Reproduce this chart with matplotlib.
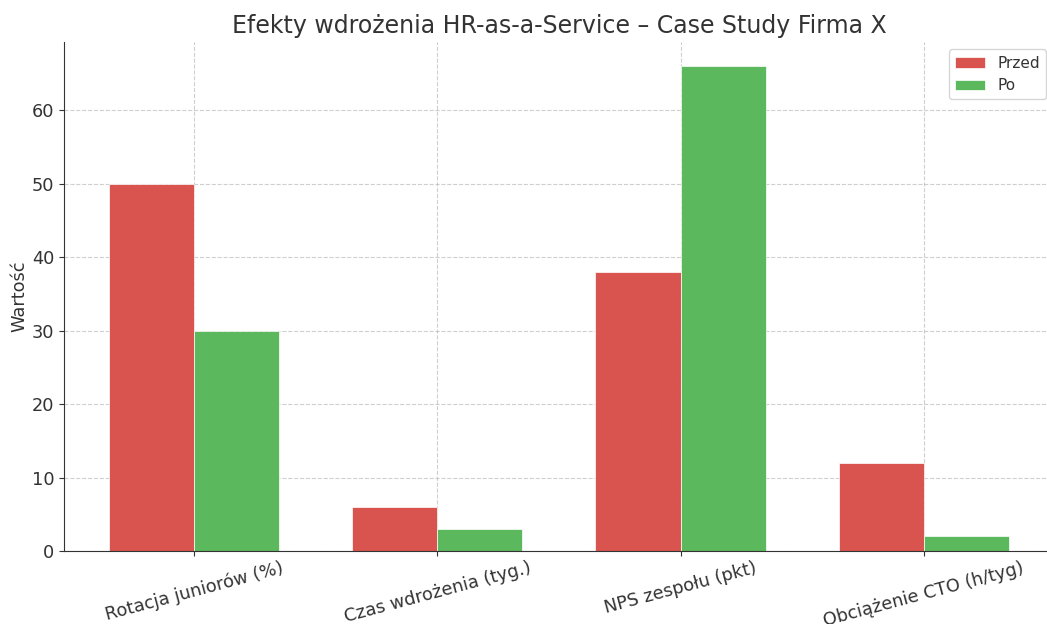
import numpy as np
import matplotlib
matplotlib.use("Agg")
import matplotlib.pyplot as plt

categories = ["Rotacja juniorów (%)", "Czas wdrożenia (tyg.)", "NPS zespołu (pkt)", "Obciążenie CTO (h/tyg)"]
przed = [50, 6, 38, 12]
po = [30, 3, 66, 2]

x = np.arange(len(categories))
width = 0.35
ink = "#333333"

fig, ax = plt.subplots(figsize=(10.47, 6.24), dpi=100)
ax.bar(x - width / 2, przed, width, label="Przed", color="#d9534f", edgecolor="white", linewidth=0.5)
ax.bar(x + width / 2, po, width, label="Po", color="#5cb85c", edgecolor="white", linewidth=0.5)

ax.set_xticks(x)
ax.set_xticklabels(categories, rotation=15, fontsize=12.8, color=ink)
ax.tick_params(axis="x", pad=2)
ax.tick_params(axis="y", labelsize=12.8, labelcolor=ink)
ax.tick_params(colors=ink)
ax.set_ylabel("Wartość", fontsize=12.8, color=ink, labelpad=2)
ax.set_title("Efekty wdrożenia HR-as-a-Service – Case Study Firma X", fontsize=17, color=ink)
ax.grid(True, linestyle="--", alpha=0.6)
ax.set_axisbelow(True)
ax.spines["top"].set_visible(False)
ax.spines["right"].set_visible(False)
for side in ("left", "bottom"):
    ax.spines[side].set_color(ink)
leg = ax.legend(fontsize=11)
for t in leg.get_texts():
    t.set_color(ink)

fig.subplots_adjust(left=0.061, right=1.0067, top=0.933, bottom=0.117)
fig.savefig("out.png", dpi=100)
